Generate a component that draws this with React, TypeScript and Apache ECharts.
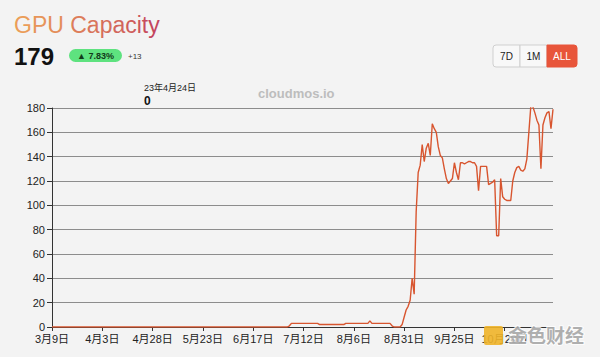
import React, { useEffect, useRef } from "react";
import * as echarts from "echarts";

const START_DATE = "2023-03-09";
const LABEL_EVERY = 25;

// Daily GPU capacity from 3月9日 to 11月14日 (251 days)
const capacity: number[] = [
  0, 0, 0, 0, 0, 0, 0, 0, 0, 0,
  0, 0, 0, 0, 0, 0, 0, 0, 0, 0,
  0, 0, 0, 0, 0, 0, 0, 0, 0, 0,
  0, 0, 0, 0, 0, 0, 0, 0, 0, 0,
  0, 0, 0, 0, 0, 0, 0, 0, 0, 0,
  0, 0, 0, 0, 0, 0, 0, 0, 0, 0,
  0, 0, 0, 0, 0, 0, 0, 0, 0, 0,
  0, 0, 0, 0, 0, 0, 0, 0, 0, 0,
  0, 0, 0, 0, 0, 0, 0, 0, 0, 0,
  0, 0, 0, 0, 0, 0, 0, 0, 0, 0,
  0, 0, 0, 0, 0, 0, 0, 0, 0, 0,
  0, 0, 0, 0, 0, 0, 0, 0, 1, 3,
  3, 3, 3, 3, 3, 3, 3, 3, 3, 3,
  3, 3, 3, 2, 2, 2, 2, 2, 2, 2,
  2, 2, 2, 2, 2, 2, 3, 3, 3, 3,
  3, 3, 3, 3, 3, 3, 3, 3, 5, 3,
  3, 3, 3, 3, 3, 3, 3, 3, 3, 1,
  0, 0, 0, 0, 2, 8, 14, 17, 22, 40,
  27, 95, 127, 133, 150, 136, 147, 151, 141, 167,
  163, 160, 148, 141, 139, 130, 122, 118, 120, 122,
  135, 127, 121, 135, 135, 134, 135, 136, 136, 135,
  135, 132, 112, 132, 132, 132, 132, 117, 118, 119,
  121, 75, 75, 122, 107, 105, 104, 104, 104, 120,
  127, 131, 132, 129, 128, 130, 138, 160, 182, 181,
  176, 170, 166, 130, 166, 172, 176, 177, 163, 179,
];

const Y_MIN = 0;
const Y_MAX = 180;
const Y_STEP = 20;

const TITLE = "GPU Capacity";
const CURRENT_VALUE = "179";
const CHANGE_PCT = "▲ 7.83%";
const CHANGE_ABS = "+13";
const RANGES = ["7D", "1M", "ALL"];
const TIP_DATE = "23年4月24日";
const TIP_VALUE = "0";
const WATERMARK = "cloudmos.io";
const WATERMARK2 = "金色财经";

const FONT = "'Liberation Sans', Arial, 'Noto Sans CJK SC', sans-serif";
const TITLE_FROM = [235, 157, 88];
const TITLE_TO = [196, 70, 94];

function buildDates(start: string, n: number): string[] {
  const out: string[] = [];
  const base = new Date(start + "T00:00:00Z").getTime();
  for (let i = 0; i < n; i++) {
    const d = new Date(base + i * 86400000);
    out.push(`${d.getUTCMonth() + 1}月${d.getUTCDate()}日`);
  }
  return out;
}

function gradientRich(text: string) {
  const chars = Array.from(text);
  const rich: Record<string, any> = {};
  const parts: string[] = [];
  chars.forEach((ch, i) => {
    const t = chars.length > 1 ? i / (chars.length - 1) : 0;
    const c = TITLE_FROM.map((v, k) => Math.round(v + (TITLE_TO[k] - v) * t));
    const key = "c" + i;
    rich[key] = { fill: `rgb(${c[0]},${c[1]},${c[2]})`, font: `23px ${FONT}` };
    parts.push(`{${key}|${ch === " " ? " " : ch}}`);
  });
  return { text: parts.join(""), rich };
}

export default function App() {
  const ref = useRef<HTMLDivElement>(null);

  useEffect(() => {
    if (!ref.current) return;
    const chart = echarts.init(ref.current, undefined, { renderer: "svg" });
    const dates = buildDates(START_DATE, capacity.length);
    const title = gradientRich(TITLE);

    const btnX = 493;
    const btnY = 45;
    const btnW = [27, 27, 30];
    let bx = btnX;
    const buttonEls: any[] = [];
    RANGES.forEach((r, i) => {
      const active = i === RANGES.length - 1;
      const w = btnW[i];
      buttonEls.push({
        type: "rect",
        shape: { x: bx, y: btnY, width: w, height: 22, r: i === 0 ? [3, 0, 0, 3] : active ? [0, 3, 3, 0] : 0 },
        style: { fill: active ? "#e8553a" : "#f8f8f8", stroke: active ? "#e8553a" : "#cfcfcf", lineWidth: 1 },
      });
      buttonEls.push({
        type: "text",
        x: bx + w / 2,
        y: btnY + 11,
        style: {
          text: r,
          fill: active ? "#ffffff" : "#222222",
          font: `10px ${FONT}`,
          align: "center",
          verticalAlign: "middle",
        },
      });
      bx += w;
    });

    chart.setOption({
      animation: false,
      backgroundColor: "#f3f3f3",
      grid: { left: 52, right: 47, top: 108, bottom: 30, containLabel: false },
      xAxis: {
        type: "category",
        boundaryGap: false,
        data: dates,
        axisLine: { lineStyle: { color: "#333", width: 1 } },
        axisTick: { show: true, interval: LABEL_EVERY - 1, length: 4, lineStyle: { color: "#333" } },
        axisLabel: {
          interval: LABEL_EVERY - 1,
          color: "#222",
          fontSize: 11,
          fontFamily: FONT,
          margin: 6,
        },
        splitLine: { show: false },
      },
      yAxis: {
        type: "value",
        min: Y_MIN,
        max: Y_MAX,
        interval: Y_STEP,
        axisLine: { show: true, lineStyle: { color: "#333", width: 1 } },
        axisTick: { show: true, length: 5, lineStyle: { color: "#333" } },
        axisLabel: { color: "#222", fontSize: 11, fontFamily: FONT, margin: 7 },
        splitLine: { show: true, lineStyle: { color: "#8c8c8c", width: 1 } },
      },
      series: [
        {
          type: "line",
          data: capacity,
          showSymbol: false,
          symbol: "none",
          lineStyle: { color: "#d8552f", width: 1.4 },
          z: 5,
        },
      ],
      graphic: [
        {
          type: "text",
          x: 14,
          y: 13,
          style: {
            text: title.text,
            rich: title.rich,
            font: `23px ${FONT}`,
          },
        },
        {
          type: "text",
          x: 14,
          y: 44,
          style: { text: CURRENT_VALUE, font: `bold 24px ${FONT}`, fill: "#111" },
        },
        {
          type: "rect",
          shape: { x: 69, y: 49, width: 53, height: 13, r: 6.5 },
          style: { fill: "#5ee27f" },
        },
        {
          type: "text",
          x: 95.5,
          y: 55.8,
          style: {
            text: CHANGE_PCT,
            font: `bold 9px ${FONT}`,
            fill: "#123a1a",
            align: "center",
            verticalAlign: "middle",
          },
        },
        {
          type: "text",
          x: 128,
          y: 56,
          style: { text: CHANGE_ABS, font: `8px ${FONT}`, fill: "#333", verticalAlign: "middle" },
        },
        ...buttonEls,
        {
          type: "text",
          x: 144,
          y: 88,
          style: { text: TIP_DATE, font: `9px ${FONT}`, fill: "#222", verticalAlign: "middle" },
        },
        {
          type: "text",
          x: 144,
          y: 101,
          style: { text: TIP_VALUE, font: `bold 12px ${FONT}`, fill: "#111", verticalAlign: "middle" },
        },
        {
          type: "text",
          x: 258,
          y: 93,
          style: { text: WATERMARK, font: `bold 13px ${FONT}`, fill: "#bdbdbd", verticalAlign: "middle" },
        },
        {
          type: "rect",
          shape: { x: 484, y: 326, width: 19, height: 19, r: 2 },
          style: { fill: "#f0b429", opacity: 0.9 },
          z: 100,
        },
        {
          type: "text",
          x: 508,
          y: 336,
          z: 100,
          style: {
            text: WATERMARK2,
            font: `bold 19px ${FONT}`,
            fill: "rgba(150,150,150,0.75)",
            stroke: "rgba(255,255,255,0.8)",
            lineWidth: 2,
            verticalAlign: "middle",
          },
        },
      ],
    });

    return () => chart.dispose();
  }, []);

  return (
    <div
      ref={ref}
      style={{ position: "absolute", left: 0, top: 0, width: 600, height: 357, background: "#f3f3f3" }}
    />
  );
}
